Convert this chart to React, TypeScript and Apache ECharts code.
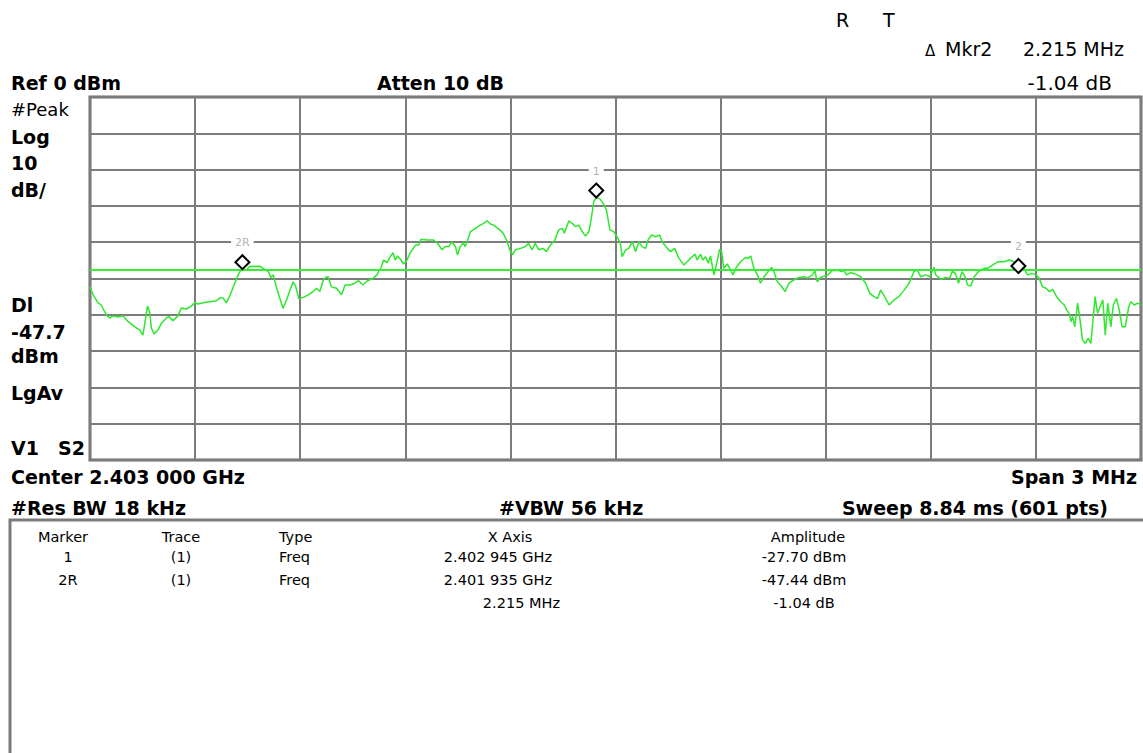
import React, { useEffect, useRef } from "react";
import * as echarts from "echarts";

// ---- data read from the screen capture ----
// trace: frequency offset from start frequency (2.4015 GHz) in kHz, amplitude in dBm
const freqOffsetKHz = [
  0, 9, 23, 32, 47, 56, 66, 80, 94, 109, 128, 142, 151, 158, 164, 171, 175, 183, 194, 204,
  218, 225, 237, 251, 261, 275, 289, 299, 309, 323, 342, 361, 373, 380, 389, 399, 413, 425, 431, 435,
  447, 456, 471, 485, 494, 509, 516, 523, 532, 542, 551, 561, 571, 580, 587, 596, 609, 623, 637, 647,
  656, 666, 672, 680, 689, 704, 718, 728, 742, 756, 767, 779, 791, 809, 819, 831, 838, 848, 857, 865,
  871, 878, 886, 895, 905, 914, 929, 938, 945, 962, 981, 992, 1005, 1014, 1024, 1033, 1043, 1049, 1057, 1065,
  1071, 1078, 1086, 1100, 1114, 1124, 1133, 1143, 1152, 1167, 1179, 1189, 1198, 1206, 1214, 1229, 1243, 1252, 1262, 1271,
  1281, 1293, 1303, 1314, 1326, 1338, 1348, 1354, 1367, 1376, 1386, 1395, 1405, 1414, 1424, 1431, 1438, 1445, 1455, 1465,
  1474, 1484, 1495, 1505, 1514, 1519, 1529, 1538, 1548, 1557, 1567, 1576, 1586, 1593, 1603, 1614, 1626, 1633, 1648, 1657,
  1669, 1681, 1695, 1705, 1714, 1727, 1733, 1743, 1749, 1757, 1765, 1771, 1781, 1789, 1797, 1803, 1809, 1819, 1829, 1835,
  1845, 1857, 1871, 1879, 1886, 1895, 1905, 1914, 1924, 1936, 1946, 1952, 1962, 1971, 1984, 1995, 2009, 2024, 2038, 2048,
  2062, 2069, 2076, 2083, 2090, 2105, 2117, 2133, 2146, 2152, 2159, 2171, 2186, 2200, 2214, 2226, 2238, 2248, 2257, 2267,
  2281, 2295, 2309, 2324, 2338, 2352, 2362, 2371, 2386, 2397, 2409, 2414, 2429, 2443, 2454, 2462, 2471, 2479, 2489, 2498,
  2505, 2514, 2524, 2536, 2552, 2562, 2576, 2591, 2609, 2624, 2638, 2648, 2650, 2666, 2676, 2689, 2700, 2709, 2719, 2729,
  2738, 2748, 2759, 2771, 2781, 2788, 2795, 2800, 2805, 2811, 2819, 2826, 2833, 2841, 2849, 2857, 2862, 2869, 2876, 2883,
  2891, 2898, 2905, 2914, 2921, 2930, 2938, 2946, 2955, 2965, 2971, 2981, 2990, 3000,
];
const traceDbm = [
  -52.3, -54.5, -56.7, -57.3, -60.1, -60.9, -60.3, -60.6, -60.3, -61.9, -63.3, -64.2, -65.6, -61.4, -57.6, -59.5, -63.6, -65.3, -64.2, -62.3,
  -60.9, -60.5, -61.6, -60.3, -58.1, -58.4, -57.6, -56.7, -57.0, -56.7, -56.4, -56.1, -55.2, -55.4, -56.7, -54.8, -51.3, -48.6, -47.7, -47.4,
  -47.7, -46.6, -46.7, -46.6, -47.2, -48.1, -49.7, -49.0, -52.3, -55.5, -58.2, -55.9, -53.2, -50.9, -52.1, -55.5, -55.2, -54.5, -53.6, -52.7,
  -53.6, -50.4, -49.7, -49.5, -52.3, -52.7, -54.5, -51.8, -51.8, -51.3, -50.6, -51.8, -50.7, -49.9, -49.0, -46.9, -44.9, -45.6, -44.0, -42.9,
  -44.9, -43.8, -44.7, -46.0, -44.9, -42.9, -40.8, -40.8, -39.2, -39.4, -39.4, -40.3, -42.1, -41.2, -41.2, -39.9, -41.2, -43.5, -41.2, -40.1,
  -41.2, -39.4, -37.1, -36.2, -35.3, -34.8, -34.1, -35.0, -35.3, -36.4, -37.5, -39.4, -42.1, -43.5, -42.1, -41.7, -41.2, -40.3, -42.1, -40.3,
  -42.1, -41.7, -42.6, -40.8, -39.6, -36.6, -36.2, -37.5, -34.1, -34.8, -35.7, -35.3, -37.1, -38.3, -37.1, -33.4, -28.8, -27.7, -28.0, -29.3,
  -31.1, -36.6, -37.1, -38.6, -40.3, -44.0, -42.1, -41.7, -39.9, -42.6, -39.9, -41.2, -41.7, -39.4, -38.0, -38.5, -38.0, -39.9, -41.7, -42.6,
  -41.7, -44.4, -46.3, -45.4, -44.4, -43.3, -44.9, -43.3, -44.9, -44.0, -45.8, -43.8, -49.0, -45.8, -42.0, -42.6, -47.2, -46.0, -47.7, -49.0,
  -46.9, -45.4, -44.2, -44.4, -43.8, -47.2, -49.0, -51.3, -49.5, -48.1, -46.9, -48.1, -50.9, -51.8, -53.6, -51.3, -50.4, -49.7, -49.5, -49.9,
  -49.0, -47.9, -50.9, -49.9, -49.5, -49.2, -47.9, -47.7, -48.1, -47.7, -49.0, -48.4, -48.8, -49.5, -51.3, -54.1, -55.0, -55.5, -53.2, -54.8,
  -57.3, -55.9, -55.0, -53.2, -51.3, -48.1, -47.7, -49.5, -49.0, -49.5, -46.9, -49.0, -50.2, -49.7, -49.9, -47.9, -48.8, -51.3, -48.1, -49.5,
  -51.8, -52.1, -49.5, -48.1, -47.2, -47.2, -46.3, -45.4, -45.4, -44.9, -45.4, -46.6, -48.5, -47.2, -49.0, -48.6, -49.0, -49.9, -52.3, -52.7,
  -53.6, -53.0, -55.0, -56.4, -57.3, -58.7, -59.6, -61.9, -60.5, -63.3, -56.8, -61.4, -66.9, -67.9, -66.5, -67.9, -62.3, -55.0, -59.6, -57.8,
  -55.9, -65.6, -56.8, -63.3, -57.3, -55.5, -58.7, -63.3, -63.3, -57.8, -56.4, -57.3, -56.8, -57.3,
];

const markerNames = ["1", "2R", "2"];
const markerOffsetKHz = [1445, 435, 2650];
const markerDbm = [-27.7, -47.44, -48.48];
const displayLineDbm = -47.7;
const refLevelDbm = 0;
const dbPerDiv = 10;
const numDivY = 10;
const spanKHz = 3000;
const numDivX = 10;

const tableHeaders = ["Marker", "Trace", "Type", "X Axis", "Amplitude"];
const tableRows = [
  ["1", "(1)", "Freq", "2.402 945 GHz", "-27.70 dBm"],
  ["2R", "(1)", "Freq", "2.401 935 GHz", "-47.44 dBm"],
  ["", "", "", "2.215 MHz", "-1.04 dB"],
];

const FONT = "DejaVu Sans";

function txt(text: string, x: number, y: number, opts: any = {}) {
  return {
    type: "text",
    x,
    y,
    silent: true,
    style: {
      text,
      fill: opts.color || "#000",
      font: `${opts.bold ? "bold " : ""}${opts.size || 19}px "${FONT}"`,
      textAlign: opts.align || "left",
      textVerticalAlign: "middle",
    },
  };
}

export default function App() {
  const ref = useRef<HTMLDivElement>(null);

  useEffect(() => {
    if (!ref.current) return;
    const chart = echarts.init(ref.current, null, { renderer: "svg" });

    const trace = freqOffsetKHz.map((f, i) => [f, traceDbm[i]]);
    const markers = markerNames.map((n, i) => ({ name: n, value: [markerOffsetKHz[i], markerDbm[i]] }));

    const graphics: any[] = [
      txt("R", 836, 20, { size: 19 }),
      txt("T", 883, 20, { size: 19 }),
      txt("\u0394", 925, 51, { size: 15 }),
      txt("Mkr2", 945, 49, { size: 19 }),
      txt("2.215 MHz", 1124, 49, { align: "right", size: 19 }),
      txt("-1.04 dB", 1112, 83, { align: "right", size: 20 }),
      txt("Ref 0 dBm", 11, 83, { bold: true }),
      txt("Atten 10 dB", 377, 83, { bold: true }),
      txt("#Peak", 11, 109, { size: 18 }),
      txt("Log", 11, 137, { bold: true }),
      txt("10", 11, 163, { bold: true }),
      txt("dB/", 11, 190, { bold: true }),
      txt("Dl", 11, 305, { bold: true }),
      txt("-47.7", 11, 332, { bold: true }),
      txt("dBm", 11, 356, { bold: true }),
      txt("LgAv", 11, 393, { bold: true }),
      txt("V1", 11, 448, { bold: true }),
      txt("S2", 58, 448, { bold: true }),
      txt("Center 2.403 000 GHz", 11, 477, { bold: true }),
      txt("Span 3 MHz", 1137, 477, { bold: true, align: "right" }),
      txt("#Res BW 18 kHz", 11, 508, { bold: true }),
      txt("#VBW 56 kHz", 499, 508, { bold: true }),
      txt("Sweep 8.84 ms (601 pts)", 1108, 508, { bold: true, align: "right" }),
      {
        type: "rect",
        silent: true,
        shape: { x: 10, y: 520, width: 1150, height: 260 },
        style: { fill: "#fff", stroke: "#7a7a7a", lineWidth: 3 },
      },
    ];

    const headerX = [63, 181, 279, 510, 808];
    const headerAlign = ["center", "center", "left", "center", "center"];
    tableHeaders.forEach((h, i) => {
      graphics.push(txt(h, headerX[i], 537, { size: 14.5, align: headerAlign[i] }));
    });
    const rowY = [557, 580, 603];
    const colX = [68, 181, 279, 552, 804];
    const colAlign = ["center", "center", "left", "right", "center"];
    tableRows.forEach((row, r) => {
      row.forEach((cell, c) => {
        if (!cell) return;
        let x = colX[c];
        if (c === 3 && r === 2) x = 560;
        graphics.push(txt(cell, x, rowY[r], { size: 14.5, align: colAlign[c] }));
      });
    });

    chart.setOption({
      animation: false,
      backgroundColor: "#fff",
      grid: {
        left: 90,
        top: 97,
        width: 1051,
        height: 363,
        show: true,
        borderColor: "#6a6a6a",
        borderWidth: 3,
        backgroundColor: "#fff",
      },
      xAxis: {
        type: "value",
        min: 0,
        max: spanKHz,
        interval: spanKHz / numDivX,
        axisLabel: { show: false },
        axisTick: { show: false },
        axisLine: { show: false },
        splitLine: { show: true, lineStyle: { color: "#7c7c7c", width: 2 } },
      },
      yAxis: {
        type: "value",
        min: refLevelDbm - dbPerDiv * numDivY,
        max: refLevelDbm,
        interval: dbPerDiv,
        axisLabel: { show: false },
        axisTick: { show: false },
        axisLine: { show: false },
        splitLine: { show: true, lineStyle: { color: "#7c7c7c", width: 2 } },
      },
      graphic: graphics,
      series: [
        {
          type: "line",
          data: trace,
          showSymbol: false,
          symbol: "none",
          silent: true,
          lineStyle: { color: "#2ee82e", width: 1.5 },
          z: 3,
          markLine: {
            silent: true,
            symbol: "none",
            label: { show: false },
            lineStyle: { color: "#33f033", width: 2, type: "solid" },
            data: [{ yAxis: displayLineDbm }],
          },
        },
        {
          type: "scatter",
          data: markers,
          symbol: "diamond",
          symbolSize: [14, 14],
          symbolOffset: [0, -7],
          silent: true,
          z: 5,
          itemStyle: { color: "#fff", borderColor: "#000", borderWidth: 2, opacity: 1 },
          label: {
            show: true,
            formatter: "{b}",
            position: "top",
            distance: 6,
            color: "#b4b4b4",
            fontSize: 11,
            fontFamily: FONT,
            backgroundColor: "#fff",
            padding: [0, 4],
          },
        },
      ],
    });

    return () => chart.dispose();
  }, []);

  return (
    <div
      ref={ref}
      style={{ position: "fixed", left: 0, top: 0, width: 1143, height: 753, background: "#fff" }}
    />
  );
}
